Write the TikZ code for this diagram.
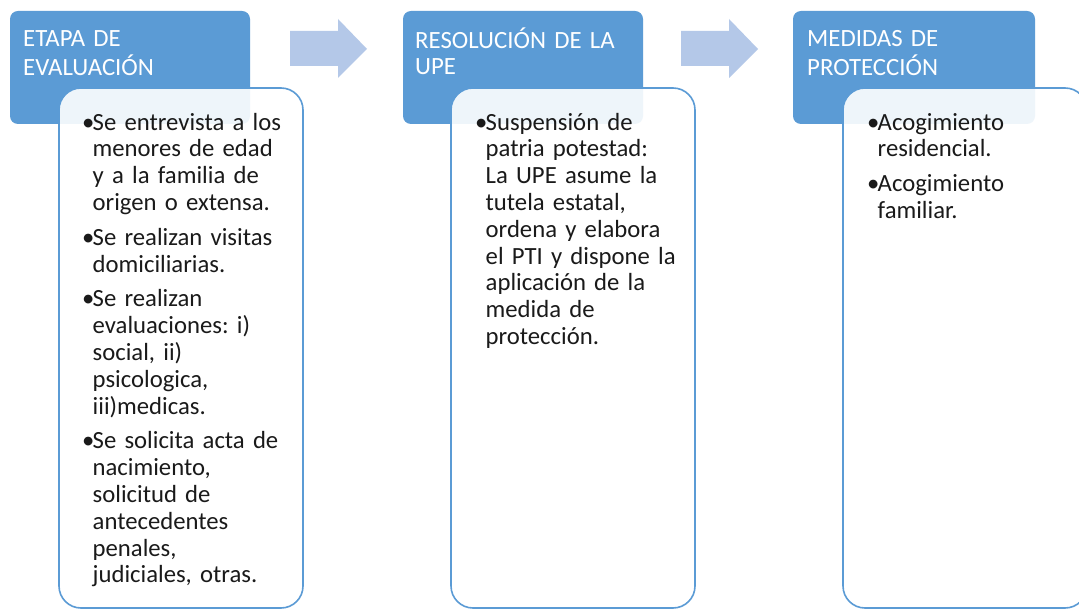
\documentclass[tikz,border=0pt]{standalone}
\usepackage{fontspec}
\setmainfont{Carlito}
\definecolor{hdrblue}{HTML}{5B9BD5}
\definecolor{arrblue}{HTML}{B4C8E8}
\definecolor{txt}{HTML}{1A1A1A}
\newcommand\bl{\makebox[10.5pt][l]{•}}
\newcommand\ind{\hspace*{10.5pt}}
\tikzset{
  hdrbox/.style={fill=hdrblue, draw=none, rounded corners=8pt},
  bodybox/.style={fill=white, fill opacity=0.9, draw=hdrblue, draw opacity=1, line width=1.6pt, rounded corners=22pt},
  hdrtext/.style={anchor=north west, inner sep=0pt, text width=235pt, align=left, text=white,
    font=\fontsize{24.8}{26.8}\selectfont\frenchspacing},
  bodytext/.style={anchor=north west, inner sep=0pt, text width=240pt, align=left, text=txt,
    font=\fontsize{24.7}{26.8}\selectfont\frenchspacing},
  flowarrow/.style={fill=arrblue, draw=none}
}
\begin{document}
\begin{tikzpicture}[x=1pt, y=-1pt]
\useasboundingbox (0,0) rectangle (1079,609);
\clip (0,0) rectangle (1079,609);
\fill[white] (0,0) rectangle (1079,609);

% header boxes
\path[hdrbox] (10,11) rectangle (250,124);
\path[hdrbox] (403,11) rectangle (643,124);
\path[hdrbox] (793,11) rectangle (1035,124);

% body boxes
\path[bodybox] (59,88) rectangle (303,608);
\path[bodybox] (451,88) rectangle (695,608);
\path[bodybox] (843,88) rectangle (1087,608);

% arrows
\path[flowarrow] (290,31) -- (338,31) -- (338,19) -- (367,49) -- (338,78) -- (338,66) -- (290,66) -- cycle;
\path[flowarrow] (681,31) -- (729,31) -- (729,19) -- (758,49) -- (729,78) -- (729,66) -- (681,66) -- cycle;

% header texts
\node[hdrtext] (h1) at (23,27.2) {\strut ETAPA DE\\EVALUACIÓN};
\node[hdrtext] (h2) at (415,27.2) {\strut RESOLUCIÓN DE LA\\UPE};
\node[hdrtext] (h3) at (807,27.2) {\strut MEDIDAS DE\\PROTECCIÓN};

% body texts
\node[bodytext] (b1) at (82,111.2) {\strut\bl Se entrevista a los\\
\ind menores de edad\\
\ind y a la familia de\\
\ind origen o extensa.\\[8pt]
\bl Se realizan visitas\\
\ind domiciliarias.\\[8pt]
\bl Se realizan\\
\ind evaluaciones: i)\\
\ind social, ii)\\
\ind psicologica,\\
\ind iii)medicas.\\[8pt]
\bl Se solicita acta de\\
\ind nacimiento,\\
\ind solicitud de\\
\ind antecedentes\\
\ind penales,\\
\ind judiciales, otras.};

\node[bodytext] (b2) at (475,111.2) {\strut\bl Suspensión de\\
\ind patria potestad:\\
\ind La UPE asume la\\
\ind tutela estatal,\\
\ind ordena y elabora\\
\ind el PTI y dispone la\\
\ind aplicación de la\\
\ind medida de\\
\ind protección.};

\node[bodytext] (b3) at (867,111.2) {\strut\bl Acogimiento\\
\ind residencial.\\[8pt]
\bl Acogimiento\\
\ind familiar.};
\end{tikzpicture}
\end{document}
